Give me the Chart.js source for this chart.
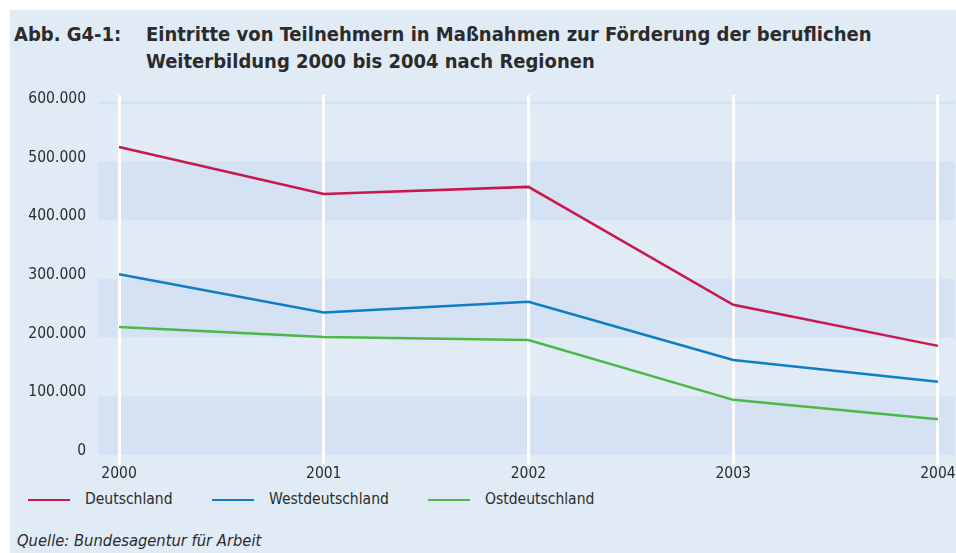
<!DOCTYPE html>
<html lang="de">
<head>
    <meta charset="UTF-8">
    <title>Abb. G4-1</title>
    <script src="https://cdn.jsdelivr.net/npm/chart.js"></script>
    <style>
        * {
            margin: 0;
            padding: 0;
            box-sizing: border-box;
        }

        body {
            width: 956px;
            height: 553px;
            background: #ffffff;
            overflow: hidden;
            font-family: "DejaVu Sans Condensed", "DejaVu Sans", sans-serif;
            color: #2b2b2b;
        }

        .panel {
            position: absolute;
            left: 10px;
            top: 10px;
            width: 946px;
            height: 543px;
            background: #e1ebf6;
        }

        .title {
            position: absolute;
            top: 21px;
            left: 14px;
            width: 940px;
            font-weight: bold;
            font-size: 20px;
            line-height: 27px;
            color: #2b2b2b;
            white-space: nowrap;
        }

        .title .num {
            position: absolute;
            left: 0;
        }

        .title .text {
            position: absolute;
            left: 132px;
        }

        .chart-box {
            position: absolute;
            left: 0;
            top: 88px;
            width: 956px;
            height: 397px;
        }

        .legend {
            position: absolute;
            top: 490px;
            left: 0;
            font-size: 15.5px;
            white-space: nowrap;
        }

        .legend span {
            position: absolute;
            top: 0;
        }

        .legend i {
            position: absolute;
            top: 9px;
            width: 42px;
            height: 2px;
        }

        .source {
            position: absolute;
            top: 531px;
            left: 17px;
            font-size: 16.4px;
            font-style: italic;
            white-space: nowrap;
        }
    </style>
</head>
<body>
    <div class="panel"></div>
    <div class="title">
        <div class="num">Abb. G4-1:</div>
        <div class="text">Eintritte von Teilnehmern in Maßnahmen zur Förderung der beruflichen<br>Weiterbildung 2000 bis 2004 nach Regionen</div>
    </div>
    <div class="chart-box">
        <canvas id="chart"></canvas>
    </div>
    <div class="legend" id="legend"></div>
    <div class="source">Quelle: Bundesagentur für Arbeit</div>

    <script>
        const years = [2000, 2001, 2002, 2003, 2004];
        const deutschland = [525000, 445000, 457000, 256000, 186000];
        const westdeutschland = [308000, 243000, 261000, 162000, 125000];
        const ostdeutschland = [218000, 201000, 196000, 94000, 61000];
        const yTicks = [0, 100000, 200000, 300000, 400000, 500000, 600000];

        const seriesNames = ['Deutschland', 'Westdeutschland', 'Ostdeutschland'];
        const seriesColors = ['#c8194f', '#0f7dc6', '#4cb848'];
        const seriesData = [deutschland, westdeutschland, ostdeutschland];

        function formatDe(v) {
            return String(v).replace(/\B(?=(\d{3})+(?!\d))/g, '.');
        }

        // alternating horizontal bands, drawn before the white grid lines
        const stripes = {
            id: 'stripes',
            beforeDraw(chart) {
                const { ctx, chartArea, scales } = chart;
                const y = scales.y;
                ctx.save();
                ctx.fillStyle = '#d4e2f3';
                for (let i = 0; i < yTicks.length - 1; i += 2) {
                    const top = y.getPixelForValue(yTicks[i + 1]);
                    const bottom = y.getPixelForValue(yTicks[i]);
                    ctx.fillRect(chartArea.left, top, chartArea.right - chartArea.left - 1, bottom - top);
                }
                const topLine = y.getPixelForValue(yTicks[yTicks.length - 1]);
                ctx.fillRect(chartArea.left, topLine - 1.5, chartArea.right - chartArea.left - 1, 3);
                ctx.restore();
            }
        };

        const ctx = document.getElementById('chart').getContext('2d');
        const chart = new Chart(ctx, {
            type: 'line',
            data: {
                datasets: seriesData.map((d, i) => ({
                    label: seriesNames[i],
                    data: d.map((v, j) => ({ x: years[j], y: v })),
                    borderColor: seriesColors[i],
                    backgroundColor: seriesColors[i],
                    borderWidth: 2.5,
                    pointRadius: 0,
                    tension: 0
                }))
            },
            options: {
                responsive: true,
                maintainAspectRatio: false,
                animation: false,
                layout: { padding: { top: 7, right: 0, bottom: 0, left: 0 } },
                plugins: {
                    legend: { display: false },
                    tooltip: { enabled: false }
                },
                scales: {
                    x: {
                        type: 'linear',
                        min: 1999.8974,
                        max: 2004.088,
                        afterBuildTicks: s => { s.ticks = years.map(v => ({ value: v })); },
                        afterFit: s => {
                            s.height = 30;
                            s.paddingLeft = 0;
                            s.paddingRight = 0;
                        },
                        border: { display: false },
                        grid: {
                            color: '#ffffff',
                            lineWidth: 3,
                            drawTicks: true,
                            tickLength: 10,
                            tickColor: '#ffffff'
                        },
                        ticks: {
                            padding: 0,
                            maxRotation: 0,
                            color: '#2b2b2b',
                            font: { family: '"DejaVu Sans Condensed", "DejaVu Sans", sans-serif', size: 15.5 },
                            callback: v => String(v)
                        }
                    },
                    y: {
                        min: 0,
                        max: 613600,
                        afterBuildTicks: s => { s.ticks = yTicks.map(v => ({ value: v })); },
                        afterFit: s => {
                            s.width = 98;
                            s.paddingTop = 0;
                            s.paddingBottom = 0;
                        },
                        border: { display: false },
                        grid: { display: false, drawTicks: false },
                        ticks: {
                            padding: 12,
                            labelOffset: -4,
                            color: '#2b2b2b',
                            font: { family: '"DejaVu Sans Condensed", "DejaVu Sans", sans-serif', size: 15.5 },
                            callback: v => formatDe(v)
                        }
                    }
                }
            },
            plugins: [stripes]
        });

        // legend built from the datasets
        const legendX = [28, 212, 428];
        const legend = document.getElementById('legend');
        seriesNames.forEach((name, i) => {
            const line = document.createElement('i');
            line.style.left = legendX[i] + 'px';
            line.style.background = seriesColors[i];
            const label = document.createElement('span');
            label.style.left = (legendX[i] + 57) + 'px';
            label.textContent = name;
            legend.appendChild(line);
            legend.appendChild(label);
        });
    </script>
</body>
</html>
